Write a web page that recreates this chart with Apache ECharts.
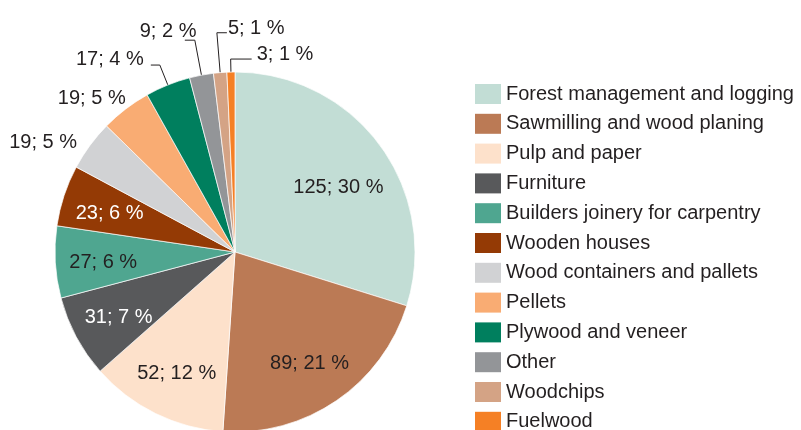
<!DOCTYPE html>
<html>
<head>
<meta charset="utf-8">
<script src="https://cdn.jsdelivr.net/npm/echarts@6/dist/echarts.min.js"></script>
<style>
  html, body { margin: 0; background: #fff; }
  #main { width: 801px; height: 430px; }
</style>
</head>
<body>
<div id="main"></div>
<script>
var categories = [
  'Forest management and logging',
  'Sawmilling and wood planing',
  'Pulp and paper',
  'Furniture',
  'Builders joinery for carpentry',
  'Wooden houses',
  'Wood containers and pallets',
  'Pellets',
  'Plywood and veneer',
  'Other',
  'Woodchips',
  'Fuelwood'
];
var values = [125, 89, 52, 31, 27, 23, 19, 19, 17, 9, 5, 3];
var shares = [30, 21, 12, 7, 6, 6, 5, 5, 4, 2, 1, 1];

var colors = [
  '#c2ddd5', '#bb7a55', '#fde1cb', '#58595b', '#4fa690', '#943a05',
  '#d1d2d4', '#f9ac73', '#007f5e', '#939598', '#d4a385', '#f58025'
];

var TEXT = '#231f20';
var FONT = '"Liberation Sans", Arial, sans-serif';
var CX = 235, CY = 252, R = 180;
var INNER_LABEL_R = 132;
var INSIDE = 6;               // first slices carry their label inside
var whiteLabels = ['Furniture', 'Wooden houses'];
// small hand nudges of inside labels (dx, dy)
var insideNudge = { 'Forest management and logging': [-3, 14] };

// leader lines for the small slices: radial part, horizontal run, text gap, lift
var leaders = {
  'Wood containers and pallets': { len: 8, run: 0, gap: 6.5, lift: -2, line: false },
  'Pellets': { len: 10, run: 0, gap: -6, lift: 3, line: false },
  'Plywood and veneer': { len: 21.5, run: -9, gap: 7, lift: 6, line: true },
  'Other': { len: 35.6, run: -10, gap: -11.6, lift: 9, line: true },
  'Woodchips': { len: 40, run: 10, gap: 1, lift: 4, line: true },
  'Fuelwood': { len: 13, run: 21, gap: 5, lift: 5, line: true }
};

var chartDom = document.getElementById('main');
var myChart = echarts.init(chartDom);

var pieData = categories.map(function (name, i) {
  var inside = i < INSIDE;
  var lead = leaders[name];
  return {
    name: name,
    value: values[i],
    itemStyle: { color: colors[i] },
    label: {
      position: inside ? 'inside' : 'outside',
      color: whiteLabels.indexOf(name) >= 0 ? '#ffffff' : TEXT
    },
    labelLine: {
      show: !inside,
      lineStyle: { opacity: lead && lead.line ? 1 : 0 }
    }
  };
});

var option = {
  animation: false,
  legend: {
    orient: 'vertical',
    left: 475,
    top: 84,
    height: 360,
    padding: 0,
    icon: 'rect',
    itemWidth: 26,
    itemHeight: 20,
    itemGap: 9.8,
    itemStyle: { borderWidth: 0 },
    textStyle: { fontSize: 20, lineHeight: 20, color: TEXT, fontFamily: FONT },
    data: categories
  },
  series: [
    {
      type: 'pie',
      center: [CX, CY],
      radius: R,
      startAngle: 90,
      clockwise: true,
      avoidLabelOverlap: false,
      silent: true,
      itemStyle: { borderColor: '#ffffff', borderWidth: 0.7 },
      label: {
        show: true,
        fontSize: 20,
        fontFamily: FONT,
        formatter: function (p) {
          return values[p.dataIndex] + '; ' + shares[p.dataIndex] + ' %';
        }
      },
      labelLine: {
        lineStyle: { color: TEXT, width: 1 }
      },
      labelLayout: function (params) {
        var i = params.dataIndex;
        if (i < INSIDE) {
          var r = params.labelRect;
          var lx = r.x + r.width / 2, ly = r.y + r.height / 2;
          var k = INNER_LABEL_R / Math.hypot(lx - CX, ly - CY);
          var nudge = insideNudge[categories[i]] || [0, 3];
          return {
            x: CX + (lx - CX) * k + nudge[0],
            y: CY + (ly - CY) * k + nudge[1],
            align: 'center',
            verticalAlign: 'middle'
          };
        }
        var cfg = leaders[categories[i]];
        var p0 = params.labelLinePoints[0];
        var dx = p0[0] - CX, dy = p0[1] - CY, d = Math.hypot(dx, dy);
        var p1 = [p0[0] + dx / d * cfg.len, p0[1] + dy / d * cfg.len];
        var p2 = [p1[0] + cfg.run, p1[1]];
        var right = cfg.run > 0;
        return {
          x: p2[0] + (right ? cfg.gap : -cfg.gap),
          y: p2[1] - cfg.lift,
          align: right ? 'left' : 'right',
          verticalAlign: 'middle',
          labelLinePoints: [p0, p1, p2]
        };
      },
      data: pieData
    }
  ]
};

myChart.setOption(option);
window.addEventListener('resize', myChart.resize);
</script>
</body>
</html>
